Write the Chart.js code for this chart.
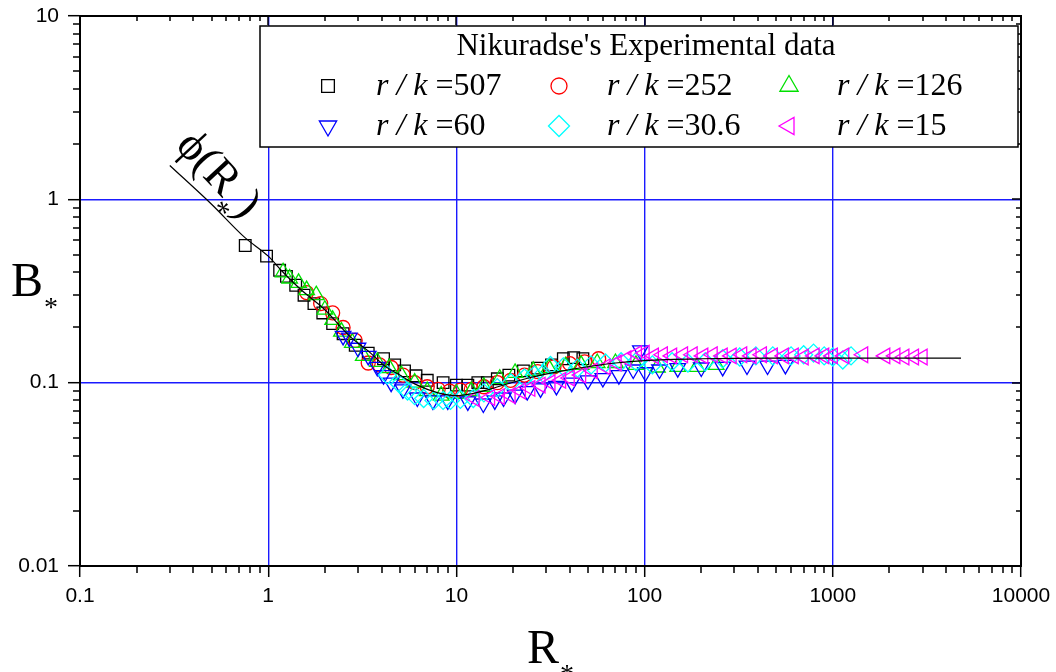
<!DOCTYPE html>
<html>
<head>
<meta charset="utf-8">
<script src="https://cdn.jsdelivr.net/npm/chart.js@4/dist/chart.umd.min.js"></script>
<style>
  html, body { margin: 0; padding: 0; background: #fff; }
</style>
</head>
<body>
<canvas id="chart" width="1056" height="672"></canvas>
<script>
// tick labels
const xTickLabels = ['0.1', '1', '10', '100', '1000', '10000'];
const yTickLabels = ['0.01', '0.1', '1', '10'];

// r/k values of the six runs
const rkLabels = ['507', '252', '126', '60', '30.6', '15'];

// fitted curve phi(R*)
const curveR = [0.3, 0.5, 0.75, 1, 1.2, 1.5, 2, 2.7, 3.5, 4.1, 5, 6.2, 8, 10, 12, 15, 19, 25, 35, 47, 70, 100, 200, 500, 1000, 4800];
const curveB = [1.53, 0.94, 0.62, 0.49, 0.4, 0.32, 0.25, 0.18, 0.145, 0.125, 0.11, 0.097, 0.088, 0.085, 0.087, 0.092, 0.099, 0.107, 0.115, 0.121, 0.128, 0.132, 0.135, 0.136, 0.136, 0.136];

// Nikuradse data, one pair of arrays per r/k
const rk507R = [0.755, 0.98, 1.15, 1.25, 1.4, 1.55, 1.75, 1.95, 2.2, 2.5, 2.9, 3.4, 4.1, 4.7, 5.3, 6.1, 7, 8.5, 10, 11.5, 13, 14.6, 16.5, 19, 22.7, 27, 32, 37, 42, 47];
const rk507B = [0.56, 0.49, 0.41, 0.38, 0.34, 0.3, 0.27, 0.24, 0.21, 0.185, 0.16, 0.145, 0.135, 0.125, 0.116, 0.109, 0.103, 0.1, 0.097, 0.097, 0.1, 0.1, 0.105, 0.11, 0.116, 0.12, 0.125, 0.135, 0.137, 0.135];

const rk252R = [1.6, 1.9, 2.2, 2.5, 2.9, 3.4, 3.9, 4.5, 5.2, 6, 7, 8, 9.2, 10.5, 12, 14, 16.5, 19.4, 23, 27, 33, 40, 48, 57];
const rk252B = [0.31, 0.27, 0.24, 0.2, 0.17, 0.128, 0.125, 0.121, 0.11, 0.1, 0.095, 0.092, 0.09, 0.091, 0.092, 0.095, 0.1, 0.103, 0.11, 0.115, 0.122, 0.127, 0.13, 0.135];

const rk126R = [1.2, 1.3, 1.45, 1.6, 1.8, 2, 2.2, 2.45, 2.8, 3.2, 3.8, 4.4, 5.1, 6, 7, 8.3, 10, 12, 14, 17, 20.5, 25.6, 31, 38, 46, 56, 70, 90, 117, 150, 190, 240];
const rk126B = [0.4, 0.37, 0.35, 0.32, 0.3, 0.25, 0.22, 0.19, 0.165, 0.14, 0.13, 0.12, 0.11, 0.1, 0.09, 0.085, 0.087, 0.09, 0.095, 0.105, 0.113, 0.116, 0.12, 0.123, 0.125, 0.128, 0.128, 0.125, 0.121, 0.122, 0.122, 0.125];

const rk60R = [2.5, 2.7, 3, 3.4, 3.8, 4.1, 4.5, 5.2, 6.2, 7.5, 9, 11.5, 13.9, 16, 17.8, 20.5, 23.8, 28, 34, 41, 50, 60, 73, 87, 95, 101, 120, 150, 200, 260, 350, 450, 560];
const rk60B = [0.18, 0.176, 0.155, 0.14, 0.122, 0.11, 0.1, 0.092, 0.083, 0.08, 0.08, 0.079, 0.077, 0.08, 0.083, 0.086, 0.09, 0.093, 0.096, 0.1, 0.103, 0.106, 0.11, 0.118, 0.15, 0.114, 0.118, 0.12, 0.121, 0.122, 0.124, 0.124, 0.125];

const rk30R = [4.3, 5, 5.5, 6, 6.7, 7.6, 8.5, 9.3, 10.5, 12.3, 14, 16.5, 19.5, 23, 26, 29, 31.6, 37, 44, 52, 62, 75, 90, 110, 140, 170, 210, 260, 320, 390, 480, 600, 700, 790, 900, 1000, 1130, 1250];
const rk30B = [0.11, 0.098, 0.09, 0.085, 0.082, 0.08, 0.08, 0.08, 0.081, 0.082, 0.088, 0.094, 0.1, 0.106, 0.11, 0.112, 0.124, 0.122, 0.12, 0.125, 0.128, 0.13, 0.13, 0.125, 0.13, 0.128, 0.13, 0.135, 0.138, 0.14, 0.14, 0.14, 0.142, 0.145, 0.14, 0.138, 0.133, 0.14];

const rk15R = [12.5, 15.1, 17, 19.4, 22, 24.7, 28, 31.6, 36, 40, 46, 53, 62, 71, 80, 91, 100, 112, 125, 140, 160, 180, 205, 230, 260, 290, 330, 370, 420, 480, 550, 620, 700, 800, 900, 1000, 1150, 1450, 1900, 2150, 2400, 2700, 3000];
const rk15B = [0.082, 0.083, 0.084, 0.085, 0.09, 0.093, 0.097, 0.1, 0.103, 0.106, 0.11, 0.116, 0.122, 0.128, 0.135, 0.144, 0.145, 0.14, 0.142, 0.14, 0.142, 0.142, 0.14, 0.142, 0.14, 0.14, 0.142, 0.14, 0.142, 0.14, 0.14, 0.14, 0.138, 0.14, 0.14, 0.14, 0.14, 0.142, 0.14, 0.14, 0.138, 0.138, 0.138];

const pairs = (xs, ys) => xs.map((v, i) => ({ x: v, y: ys[i] }));

const series = [
  { r: rk507R, b: rk507B, color: '#000000', style: 'rect', rot: 0, radius: 8.2, legR: 9 },
  { r: rk252R, b: rk252B, color: '#ff0000', style: 'circle', rot: 0, radius: 7, legR: 8 },
  { r: rk126R, b: rk126B, color: '#00e000', style: 'triangle', rot: 0, radius: 9, legR: 10.5 },
  { r: rk60R, b: rk60B, color: '#0000ff', style: 'triangle', rot: 180, radius: 9, legR: 10 },
  { r: rk30R, b: rk30B, color: '#00ffff', style: 'rectRot', rot: 0, radius: 9, legR: 10.5 },
  { r: rk15R, b: rk15B, color: '#ff00ff', style: 'triangle', rot: 270, radius: 9, legR: 10 }
];

const serif = '"Liberation Serif", "Times New Roman", serif';
const sans = '"Liberation Sans", Arial, sans-serif';

const datasets = series.map((s, i) => ({
  label: 'r / k =' + rkLabels[i],
  data: pairs(s.r, s.b),
  showLine: false,
  pointStyle: s.style,
  rotation: s.rot,
  pointRadius: s.radius,
  pointHoverRadius: s.radius,
  pointBorderWidth: 1.3,
  borderColor: s.color,
  backgroundColor: 'rgba(0,0,0,0)',
  order: 6 - i
}));

datasets.push({
  label: 'phi',
  data: pairs(curveR, curveB),
  showLine: true,
  pointRadius: 0,
  borderColor: '#000',
  borderWidth: 1.2,
  cubicInterpolationMode: 'monotone',
  order: 0
});

// ticks, frame, labels and the boxed legend
const decor = {
  id: 'decor',
  afterDraw(chart) {
    const { ctx, chartArea: a, scales: { x, y } } = chart;
    ctx.save();
    ctx.strokeStyle = '#000';
    ctx.lineWidth = 1.5;
    ctx.beginPath();
    for (let d = -1; d < 4; d++) {
      for (let m = 2; m <= 9; m++) {
        const px = Math.round(x.getPixelForValue(m * Math.pow(10, d)));
        ctx.moveTo(px, a.bottom); ctx.lineTo(px, a.bottom + 7);
        ctx.moveTo(px, a.top); ctx.lineTo(px, a.top + 5);
      }
      const px = Math.round(x.getPixelForValue(Math.pow(10, d)));
      ctx.moveTo(px, a.top); ctx.lineTo(px, a.top + 9);
    }
    for (let d = -2; d < 1; d++) {
      for (let m = 2; m <= 9; m++) {
        const py = Math.round(y.getPixelForValue(m * Math.pow(10, d)));
        ctx.moveTo(a.left, py); ctx.lineTo(a.left - 7, py);
        ctx.moveTo(a.right, py); ctx.lineTo(a.right - 5, py);
      }
      const py = Math.round(y.getPixelForValue(Math.pow(10, d)));
      ctx.moveTo(a.right, py); ctx.lineTo(a.right - 9, py);
    }
    ctx.stroke();
    ctx.lineWidth = 2;
    ctx.strokeRect(a.left, a.top, a.right - a.left, a.bottom - a.top);

    // axis titles
    ctx.fillStyle = '#000';
    ctx.textBaseline = 'alphabetic';
    ctx.textAlign = 'left';
    ctx.font = '48px ' + serif;
    ctx.fillText('B', 11, 296);
    ctx.fillText('R', 527, 663);
    ctx.font = '28px ' + serif;
    ctx.fillText('*', 44, 316);
    ctx.fillText('*', 560, 683);

    // phi(R*) label along the curve
    ctx.save();
    ctx.translate(219, 174);
    ctx.rotate(0.82);
    ctx.font = '46px ' + serif;
    const w1 = ctx.measureText('\u03D5(R').width;
    ctx.font = '30px ' + serif;
    const w2 = ctx.measureText('*').width;
    ctx.font = '46px ' + serif;
    const w3 = ctx.measureText(')').width;
    const sx = -(w1 + w2 + w3) / 2;
    ctx.fillText('\u03D5(R', sx, 14);
    ctx.font = '30px ' + serif;
    ctx.fillText('*', sx + w1, 34);
    ctx.font = '46px ' + serif;
    ctx.fillText(')', sx + w1 + w2, 14);
    ctx.restore();

    // legend box
    ctx.fillStyle = '#fff';
    ctx.fillRect(260, 26, 758, 121);
    ctx.lineWidth = 1.5;
    ctx.strokeRect(260, 26, 758, 121);
    ctx.fillStyle = '#000';
    ctx.textAlign = 'center';
    ctx.textBaseline = 'middle';
    ctx.font = '31px ' + serif;
    ctx.fillText("Nikuradse's Experimental data", 646, 47);

    const colX = [328, 559, 789];
    const rowY = [86, 126];
    ctx.textAlign = 'left';
    series.forEach((s, i) => {
      const cx = colX[i % 3], cy = rowY[Math.floor(i / 3)];
      ctx.save();
      ctx.strokeStyle = s.color;
      ctx.fillStyle = 'rgba(0,0,0,0)';
      ctx.lineWidth = 1.3;
      Chart.helpers.drawPoint(ctx, { pointStyle: s.style, rotation: s.rot, radius: s.legR, borderWidth: 1.3 }, cx, cy);
      ctx.restore();
      ctx.fillStyle = '#000';
      ctx.font = 'italic 32px ' + serif;
      const tx = cx + 48;
      ctx.fillText('r / k', tx, cy + 1);
      const wi = ctx.measureText('r / k ').width;
      ctx.font = '32px ' + serif;
      ctx.fillText('=' + rkLabels[i], tx + wi, cy + 1);
    });
    ctx.restore();
  }
};

new Chart(document.getElementById('chart').getContext('2d'), {
  type: 'scatter',
  data: { datasets: datasets },
  options: {
    responsive: false,
    animation: false,
    devicePixelRatio: 1,
    layout: { padding: { top: 16, right: 35, left: 0, bottom: 0 } },
    plugins: { legend: { display: false }, tooltip: { enabled: false } },
    scales: {
      x: {
        type: 'logarithmic',
        min: 0.1,
        max: 10000,
        afterBuildTicks: s => { s.ticks = xTickLabels.map(v => ({ value: parseFloat(v) })); },
        afterFit: s => { s.height = 106; s.paddingLeft = 0; s.paddingRight = 0; },
        ticks: {
          callback: (v, i) => xTickLabels[i],
          color: '#000',
          font: { family: sans, size: 21 },
          padding: 7,
          maxRotation: 0
        },
        grid: { color: '#1a1aff', lineWidth: 1.4, tickColor: '#000', tickLength: 11, tickWidth: 1.5 },
        border: { color: '#000', width: 2 }
      },
      y: {
        type: 'logarithmic',
        min: 0.01,
        max: 10,
        afterBuildTicks: s => { s.ticks = yTickLabels.map(v => ({ value: parseFloat(v) })); },
        afterFit: s => { s.width = 80; s.paddingTop = 0; s.paddingBottom = 0; },
        ticks: {
          callback: (v, i) => yTickLabels[i],
          color: '#000',
          font: { family: sans, size: 21 },
          padding: 9
        },
        grid: { color: '#1a1aff', lineWidth: 1.4, tickColor: '#000', tickLength: 12, tickWidth: 1.5 },
        border: { color: '#000', width: 2 }
      }
    }
  },
  plugins: [decor]
});
</script>
</body>
</html>
